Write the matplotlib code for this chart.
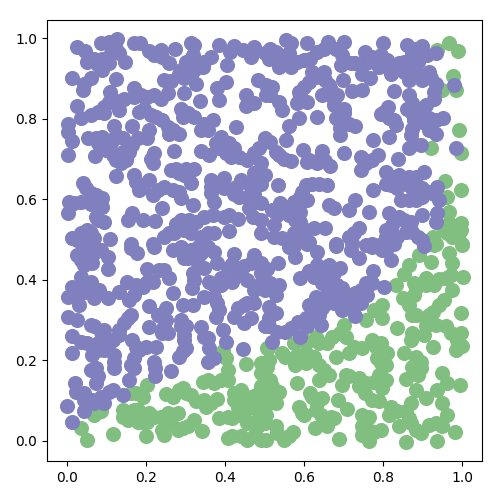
import matplotlib
matplotlib.use("Agg")
import matplotlib.pyplot as plt

purple_top_left = [(.027,.978),(.046,.968),(.050,.941),(.086,.987),(.107,.991),(.126,.997),(.124,.974),(.090,.949),(.111,.962),(.147,.940),(.088,.920),(.014,.900),(.061,.900),(.042,.872),(.124,.898),(.170,.988),(.186,.987),(.208,.968),(.238,.970),(.273,.974),(.242,.952),(.259,.939),(.314,.988),(.322,.982),(.318,.958),(.301,.941),(.331,.941),(.365,.953),(.344,.929),(.386,.982),(.422,.980),(.414,.966),(.405,.933),(.284,.912),(.263,.894),(.297,.900),(.327,.887),(.403,.891),(.381,.875),(.386,.846),(.297,.863),(.338,.844),(.170,.875),(.169,.853),(.204,.854),(.238,.850),(.255,.863),(.109,.867),(.128,.838),(.107,.842),(.025,.831),(.133,.821),(.095,.813),(.061,.809),(.035,.802),(.183,.817),(.213,.809),(.242,.796),(.255,.780),(.289,.825),(.293,.805),(.322,.805),(.369,.796),(.348,.788),(.339,.773),(.002,.786),(.002,.767),(.012,.745),(.054,.751),(.090,.755),(.120,.782),(.164,.782),(.141,.753),(.208,.772),(.179,.751),(.204,.751),(.259,.762),(.284,.763),(.428,.780),(.390,.755),(.377,.739),(.411,.739),(.002,.710),(.071,.707),(.099,.722),(.141,.718),(.158,.718),(.137,.689),(.272,.720),(.221,.714),(.217,.689),(.339,.720),(.360,.710),(.415,.705),(.424,.726),(.487,.726),(.457,.697),(.491,.689),(.124,.657),(.170,.660),(.276,.675),(.301,.676),(.322,.676),(.297,.660),(.314,.641),(.040,.640),(.061,.616),(.090,.602),(.090,.581),(.006,.594),(.035,.594),(.002,.565),(.208,.648),(.192,.631),(.217,.610),(.246,.631),(.284,.618),(.289,.602),(.318,.586),(.242,.577),(.365,.648),(.398,.652),(.365,.616),(.398,.627),(.428,.631),(.462,.639),(.436,.606),(.474,.614),(.462,.577),(.373,.594),(.369,.561),(.411,.561),(.432,.550),(.411,.522),(.166,.565),(.154,.548),(.192,.548),(.223,.546),(.078,.548),(.052,.523),(.014,.503),(.044,.499),(.069,.503),(.109,.501),(.162,.489),(.217,.490),(.276,.538),(.310,.548),(.327,.544),(.259,.515),(.297,.523),(.339,.507),(.373,.515),(.491,.548),(.491,.515),(.500,.751),
 (.445,.970),(.474,.978),(.466,.954),(.500,.962),(.483,.896),(.504,.883),(.504,.858),(.453,.858),(.453,.831),(.474,.838),(.500,.660),(.479,.660),
 (.069,.949),(.133,.962),(.107,.937),(.078,.933),(.044,.887),(.221,.958),(.289,.920),(.246,.896),(.314,.908),(.348,.941),(.322,.920),(.120,.846),(.095,.829),(.078,.817),(.145,.850),(.221,.858),(.187,.858),(.196,.825),(.225,.805),(.268,.772),(.306,.813),(.356,.771),(.073,.751),(.078,.739),(.111,.739),(.124,.759),(.166,.734),(.124,.697),(.149,.697),(.116,.710),(.213,.701),(.263,.672),(.284,.664),(.306,.656),(.175,.643),(.183,.623),(.230,.623),(.268,.623),(.048,.627),(.073,.610),(.061,.589),(.019,.590),(.073,.557),(.095,.544),(.365,.631),(.381,.639),(.424,.614),(.457,.606),(.441,.648),(.491,.639),(.386,.726),(.403,.714),(.436,.705),(.474,.714),(.474,.664),(.491,.590),(.470,.557),(.348,.557),(.398,.557),(.289,.548),(.246,.507),(.272,.515),(.314,.515),(.356,.515),(.061,.515),(.035,.515),(.027,.499)]

purple_top_right = [(.515,.974),(.555,.995),(.566,.987),(.608,.987),(.511,.949),(.536,.954),(.562,.962),(.536,.929),(.566,.929),(.600,.945),(.633,.966),(.661,.991),(.680,.974),(.701,.991),(.697,.958),(.694,.933),(.753,.966),(.730,.937),(.756,.937),(.800,.987),(.794,.958),(.811,.945),(.747,.912),(.766,.900),(.789,.929),(.819,.912),(.840,.937),(.861,.982),(.899,.980),(.874,.962),(.933,.962),(.912,.958),(.874,.920),(.916,.916),(.865,.896),(.899,.896),(.933,.887),(.929,.867),(.698,.897),(.621,.916),(.650,.916),(.612,.892),(.654,.896),(.519,.879),(.515,.858),(.536,.842),(.545,.821),(.591,.858),(.608,.842),(.583,.838),(.646,.858),(.667,.871),(.684,.858),(.676,.834),(.722,.868),(.746,.871),(.827,.869),(.865,.858),(.929,.850),(.908,.834),(.861,.825),(.813,.829),(.794,.811),(.816,.801),(.833,.784),(.701,.813),(.680,.801),(.587,.801),(.563,.782),(.633,.803),(.730,.782),(.692,.776),(.692,.759),(.878,.796),(.916,.801),(.952,.802),(.933,.763),(.870,.759),(.895,.734),(.865,.726),(.815,.755),(.774,.747),(.555,.747),(.515,.743),(.985,.726),(.597,.722),(.646,.720),(.536,.710),(.566,.695),(.608,.693),(.633,.689),(.665,.682),(.701,.716),(.743,.704),(.771,.697),(.788,.710),(.743,.672),(.838,.699),(.806,.667),(.840,.660),(.865,.656),(.903,.668),(.819,.635),(.857,.639),(.937,.631),(.899,.627),(.882,.598),(.844,.598),(.941,.598),(.535,.635),(.604,.635),(.638,.639),(.659,.635),(.589,.606),(.608,.598),(.540,.590),(.519,.573),(.562,.561),(.591,.569),(.591,.544),(.663,.586),(.676,.577),(.729,.598),(.714,.573),(.764,.569),(.774,.623),(.899,.562),(.937,.565),(.933,.544),(.815,.565),(.840,.557),(.870,.544),(.823,.536),(.524,.536),(.524,.507),(.625,.528),(.654,.528),(.587,.507),(.557,.499),(.612,.495),(.739,.528),(.726,.515),(.806,.523),(.836,.507),(.874,.519),(.899,.499),(.680,.489),(.773,.489),(.979,.883),
 (.528,.966),(.549,.941),(.583,.941),(.616,.948),(.650,.974),(.718,.937),(.773,.953),(.781,.937),(.828,.925),(.853,.941),(.853,.916),(.887,.941),(.891,.908),(.920,.900),(.882,.974),(.629,.904),(.600,.879),(.587,.867),(.663,.883),(.701,.825),(.676,.846),(.688,.796),(.714,.788),(.802,.817),(.827,.796),(.874,.838),(.899,.825),(.874,.813),(.899,.792),(.933,.796),(.916,.771),(.874,.775),(.878,.738),(.612,.697),(.642,.706),(.654,.695),(.528,.718),(.549,.701),(.756,.689),(.827,.656),(.882,.656),(.806,.639),(.836,.627),(.874,.627),(.916,.619),(.899,.606),(.929,.614),(.865,.598),(.574,.594),(.621,.639),(.595,.619),(.553,.581),(.578,.548),(.532,.561),(.604,.523),(.574,.515),(.545,.503),(.827,.548),(.853,.548),(.806,.507),(.857,.519),(.887,.507),(.714,.507)]

purple_bottom_left = [(.048,.461),(.069,.466),(.044,.437),(.103,.457),(.103,.426),(.086,.474),(.040,.486),(.035,.408),(.012,.383),(.002,.356),(.031,.337),(.052,.387),(.069,.354),(.103,.354),(.082,.375),(.133,.370),(.152,.395),(.169,.362),(.192,.383),(.204,.426),(.234,.424),(.217,.395),(.259,.404),(.162,.478),(.177,.467),(.221,.482),(.268,.366),(.297,.453),(.268,.474),(.314,.474),(.339,.466),(.373,.470),(.424,.464),(.474,.461),(.407,.428),(.449,.433),(.491,.441),(.318,.416),(.348,.428),(.360,.395),(.316,.379),(.348,.358),(.390,.387),(.419,.395),(.457,.399),(.491,.391),(.381,.342),(.457,.342),(.432,.329),(.424,.308),(.466,.304),(.449,.292),(.377,.308),(.394,.275),(.403,.246),(.445,.227),(.500,.284),(.295,.337),(.318,.337),(.208,.335),(.251,.329),(.230,.313),(.162,.313),(.145,.292),(.002,.308),(.025,.300),(.061,.288),(.086,.271),(.012,.260),(.035,.246),(.078,.242),(.133,.263),(.116,.251),(.166,.251),(.208,.282),(.255,.267),(.289,.300),(.297,.263),(.339,.282),(.356,.255),(.359,.230),(.301,.230),(.284,.209),(.225,.234),(.183,.226),(.170,.205),(.120,.214),(.065,.214),(.014,.218),(.095,.226),(.373,.205),(.356,.197),(.221,.197),(.170,.180),(.120,.180),(.061,.176),(.263,.174),(.223,.161),(.158,.151),(.073,.143),(.020,.143),(.023,.122),(.044,.102),(.095,.094),(.116,.127),(.141,.114),(.069,.093),(.044,.073),(.000,.087),(.014,.046),
 (.061,.474),(.027,.461),(.065,.441),(.035,.449),(.035,.387),(.023,.362),(.044,.370),(.061,.395),(.175,.387),(.158,.349),(.204,.395),(.246,.424),(.289,.482),(.331,.482),(.356,.482),(.306,.453),(.331,.441),(.381,.441),(.322,.399),(.373,.388),(.419,.438),(.466,.441),(.390,.404),(.432,.412),(.491,.416),(.474,.375),(.500,.375),(.373,.358),(.386,.325),(.449,.337),(.474,.342),(.301,.284),(.289,.284),(.251,.300),(.246,.284),(.242,.267),(.348,.259),(.297,.251),(.293,.222),(.154,.304),(.133,.275),(.095,.255),(.052,.242),(.095,.275),(.069,.284),(.078,.226),(.107,.242),(.175,.234),(.200,.234),(.162,.189),(.120,.197),(.073,.180),(.078,.160),(.086,.110),(.107,.122),(.044,.118),(.065,.102),(.223,.180)]

purple_bottom_right = [(.562,.482),(.578,.457),(.608,.490),(.633,.470),(.680,.484),(.535,.441),(.633,.437),(.663,.437),(.692,.428),(.718,.474),(.739,.453),(.773,.482),(.798,.474),(.819,.449),(.827,.490),(.903,.485),(.774,.423),(.591,.404),(.625,.408),(.659,.408),(.536,.387),(.515,.391),(.528,.362),(.773,.391),(.802,.383),(.507,.426),(.697,.379),(.671,.375),(.629,.358),(.612,.337),(.659,.342),(.730,.366),(.714,.342),(.760,.362),(.730,.310),(.528,.317),(.511,.304),(.676,.342),(.638,.313),(.642,.288),(.584,.296),(.608,.284),(.553,.271),(.591,.259),(.519,.246),(.511,.284),(.697,.325),
 (.574,.483),(.646,.424),(.676,.416),(.612,.421),(.646,.391),(.684,.387),(.654,.358),(.684,.362),(.705,.358),(.743,.375),(.756,.391),(.718,.329),(.743,.342),(.629,.333),(.646,.329),(.625,.300),(.604,.304),(.566,.280),(.532,.271),(.511,.333),(.806,.474),(.789,.486),(.756,.486),(.722,.492)]

green_top_right = [(.937,.970),(.967,.987),(.990,.968),(.977,.906),(.985,.871),(.950,.871),(.992,.773),(.998,.716),(.920,.726),(.957,.646),(.998,.624),(.967,.569),(.996,.540),(.996,.523),(.967,.540),(.954,.523),(1.000,.490),(.925,.507),(.933,.490),(.962,.606),(.975,.507),(.962,.515),(.992,.515)]

green_bottom_left = [(.394,.222),(.407,.176),(.453,.191),(.500,.184),(.390,.151),(.344,.147),(.373,.143),(.204,.139),(.162,.118),(.192,.110),(.251,.116),(.268,.110),(.293,.131),(.314,.114),(.327,.098),(.352,.085),(.381,.103),(.424,.118),(.449,.110),(.479,.114),(.432,.085),(.466,.085),(.386,.056),(.419,.056),(.449,.060),(.487,.060),(.141,.077),(.141,.060),(.170,.077),(.179,.048),(.208,.069),(.238,.060),(.280,.069),(.204,.048),(.263,.044),(.246,.015),(.293,.031),(.321,.052),(.341,.025),(.200,.013),(.116,.017),(.069,.065),(.086,.073),(.035,.031),(.051,.002),(.407,.007),(.441,.011),(.457,.002),(.491,.002),(.500,.044),(.500,.085),(.500,.135),(.491,.168),(.508,.230),
 (.403,.205),(.356,.151),(.407,.151),(.302,.118),(.285,.127),(.348,.102),(.365,.093),(.441,.127),(.424,.102),(.466,.110),(.479,.085),(.407,.060),(.457,.044),(.474,.011),(.419,.011),(.483,.036),(.154,.052),(.192,.048),(.221,.060),(.255,.069),(.306,.036),(.280,.027),(.242,.027),(.500,.110),(.491,.135),(.491,.193),(.175,.118),(.179,.077)]

green_bottom_right = [(.929,.486),(1.000,.486),(.967,.466),(.891,.461),(.920,.445),(.865,.437),(.975,.441),(.853,.414),(1.002,.406),(.958,.404),(.908,.404),(.878,.391),(.832,.387),(.975,.375),(.929,.387),(.954,.350),(.878,.362),(.849,.354),(.798,.337),(.777,.325),(.798,.304),(.756,.300),(.701,.288),(.692,.267),(.659,.242),(.629,.259),(.595,.259),(.574,.242),(.545,.218),(.604,.218),(.578,.189),(.638,.189),(.663,.164),(.638,.151),(.680,.209),(.714,.218),(.747,.230),(.773,.251),(.794,.242),(.811,.218),(.785,.205),(.806,.189),(.789,.164),(.777,.147),(.798,.131),(.705,.164),(.697,.139),(.739,.155),(.754,.118),(.789,.098),(.853,.219),(.882,.209),(.895,.180),(.874,.184),(.857,.154),(.882,.127),(.908,.106),(.870,.093),(.836,.281),(.870,.251),(.903,.263),(.925,.321),(.874,.313),(.908,.300),(.958,.284),(.996,.317),(.996,.267),(1.000,.236),(.985,.226),(.926,.234),(.948,.168),(.962,.143),(.937,.127),(.995,.139),(.950,.093),(.962,.065),(.823,.077),(.815,.065),(.865,.056),(.840,.036),(.895,.019),(.916,.040),(.950,.036),(.982,.021),(.937,.000),(.857,-.002),(.688,.005),(.747,.065),(.764,.060),(.747,.036),(.794,.026),(.764,.000),(.747,.015),(.686,.102),(.708,.079),(.587,.085),(.600,.065),(.616,.118),(.646,.106),(.629,.077),(.676,.056),(.642,.065),(.659,.036),(.627,.031),(.573,.021),(.549,.002),(.530,.036),(.583,.143),(.507,.184),(.515,.151),(.536,.122),(.528,.093),(.503,.065),(.503,.002),(.507,.230),(.503,.155),
 (.882,.380),(.908,.386),(.941,.402),(.971,.411),(.865,.337),(.882,.313),(.916,.313),(.941,.337),(.908,.284),(.933,.288),(.971,.267),(.988,.251),(.874,.267),(.895,.197),(.887,.164),(.806,.151),(.794,.193),(.781,.234),(.726,.234),(.705,.259),(.671,.259),(.638,.242),(.604,.242),(.583,.213),(.553,.209),(.625,.209),(.604,.193),(.650,.176),(.714,.160),(.739,.135),(.756,.143),(.621,.110),(.633,.093),(.595,.069),(.654,.048),(.667,.060),(.756,.048),(.777,.023),(.819,.085),(.836,.073),(.857,.073),(.870,.044),(.882,.027),(.933,.044),(.511,.201),(.519,.135),(.511,.110),(.528,.114),(.532,.019),(.562,.011),(.773,.102)]

purple = purple_top_left + purple_top_right + purple_bottom_left + purple_bottom_right
green = green_top_right + green_bottom_left + green_bottom_right

fig = plt.figure(figsize=(5, 5), dpi=100)
ax = fig.add_axes([47/500, 39/500, 435/500, 441/500])
ax.scatter(*zip(*green), s=118, color=(0.5, 0.75, 0.5), linewidths=0)
ax.scatter(*zip(*purple), s=118, color=(0.5, 0.5, 0.75), linewidths=0)
ax.set_xlim(-0.05, 1.05)
ax.set_ylim(-0.05, 1.045)
ax.set_xticks([0, .2, .4, .6, .8, 1])
ax.set_yticks([0, .2, .4, .6, .8, 1])
fig.savefig("out.png", dpi=100)
